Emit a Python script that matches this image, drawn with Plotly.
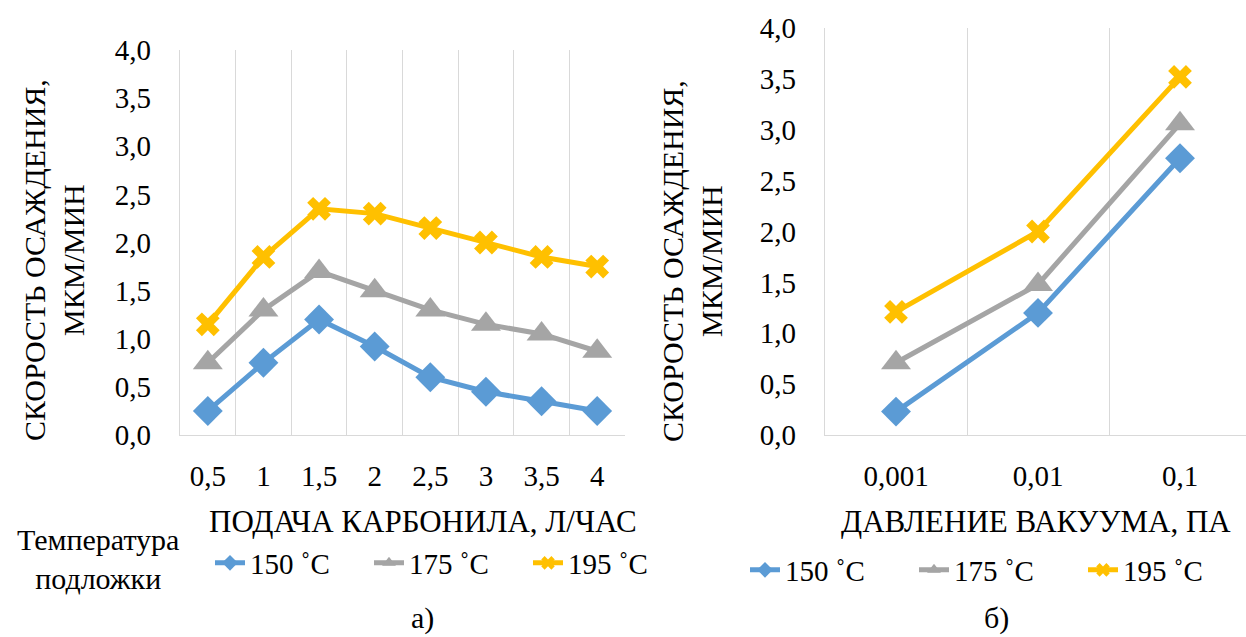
import plotly.graph_objects as go

# ---- data ----
feed_labels = ["0,5", "1", "1,5", "2", "2,5", "3", "3,5", "4"]
feed_150 = [0.25, 0.75, 1.2, 0.92, 0.6, 0.45, 0.35, 0.25]
feed_175 = [0.75, 1.3, 1.7, 1.5, 1.3, 1.15, 1.05, 0.87]
feed_195 = [1.15, 1.85, 2.35, 2.3, 2.15, 2.0, 1.85, 1.75]

press_labels = ["0,001", "0,01", "0,1"]
press_150 = [0.23, 1.2, 2.72]
press_175 = [0.71, 1.48, 3.06]
press_195 = [1.21, 2.0, 3.52]

y_tickvals = [0, 0.5, 1, 1.5, 2, 2.5, 3, 3.5, 4]
y_ticktext = ["0,0", "0,5", "1,0", "1,5", "2,0", "2,5", "3,0", "3,5", "4,0"]

series_names = ["150 ˚C", "175 ˚C", "195 ˚C"]
colors = ["#5B9BD5", "#A5A5A5", "#FFC000"]
symbols = ["diamond", "triangle-up", "x"]
msizes = [23, 26, 21]

FONT = "Liberation Serif"
W, H = 1246, 637

fig = go.Figure()

left_sets = [feed_150, feed_175, feed_195]
right_sets = [press_150, press_175, press_195]
xl = list(range(len(feed_labels)))
xr = list(range(len(press_labels)))

for i, ys in enumerate(left_sets):
    fig.add_trace(go.Scatter(
        x=xl, y=ys, mode="lines+markers", name=series_names[i],
        line=dict(color=colors[i], width=5),
        marker=dict(symbol=symbols[i], size=msizes[i], color=colors[i]),
        xaxis="x", yaxis="y", legend="legend", hoverinfo="skip"))
for i, ys in enumerate(right_sets):
    fig.add_trace(go.Scatter(
        x=xr, y=ys, mode="lines+markers", name=series_names[i],
        line=dict(color=colors[i], width=5),
        marker=dict(symbol=symbols[i], size=msizes[i], color=colors[i]),
        xaxis="x2", yaxis="y2", legend="legend2", hoverinfo="skip"))

grid_c = "#D9D9D9"

def xaxis_cfg(domain, labels, rng):
    n = len(labels)
    return dict(
        domain=domain, range=rng, automargin=False,
        tickmode="array", tickvals=list(range(n)), ticktext=labels,
        showgrid=False, zeroline=False,
        showline=True, linecolor=grid_c, linewidth=1.3,
        ticks="outside", ticklen=15, tickcolor="rgba(0,0,0,0)",
        tickfont=dict(family=FONT, size=29, color="black"),
        minor=dict(tickvals=[k + 0.5 for k in range(-1, n)], showgrid=True,
                   gridcolor=grid_c, gridwidth=1.3, ticks=""),
        fixedrange=True)

def yaxis_cfg(domain, anchor):
    return dict(
        domain=domain, range=[0, 4], anchor=anchor, automargin=False,
        tickmode="array", tickvals=y_tickvals, ticktext=y_ticktext,
        showgrid=False, zeroline=False,
        showline=True, linecolor=grid_c, linewidth=1.3,
        ticks="outside", ticklen=22, tickcolor="rgba(0,0,0,0)",
        tickfont=dict(family=FONT, size=29, color="black"), fixedrange=True)

left_x0, left_x1 = 180 / W, 625 / W
right_x0 = 825 / W
right_span = (W - 825) / 142.0

fig.update_layout(
    width=W, height=H,
    margin=dict(l=0, r=0, t=0, b=0, autoexpand=False),
    paper_bgcolor="white", plot_bgcolor="white",
    font=dict(family=FONT, size=28, color="black"),
    hovermode=False,
    xaxis=xaxis_cfg([left_x0, left_x1], feed_labels, [-0.5, 7.5]),
    yaxis=yaxis_cfg([(H - 435) / H, (H - 50) / H], "x"),
    xaxis2=dict(xaxis_cfg([right_x0, 1.0], press_labels, [-0.5, right_span - 0.5]), anchor="y2"),
    yaxis2=yaxis_cfg([(H - 435) / H, (H - 28) / H], "x2"),
    legend=dict(
        orientation="h", x=210 / W, y=(H - 563) / H, xanchor="left", yanchor="middle",
        font=dict(family=FONT, size=29), entrywidth=114, bgcolor="rgba(0,0,0,0)",
        itemsizing="constant"),
    legend2=dict(
        orientation="h", x=745 / W, y=(H - 570) / H, xanchor="left", yanchor="middle",
        font=dict(family=FONT, size=29), entrywidth=124, bgcolor="rgba(0,0,0,0)",
        itemsizing="constant"),
    showlegend=True,
)

def ann(size):
    return dict(xref="paper", yref="paper", showarrow=False, xanchor="center", yanchor="middle",
                font=dict(family=FONT, size=size, color="black"))

fig.add_annotation(text="СКОРОСТЬ ОСАЖДЕНИЯ,<br>МКМ/МИН", x=54 / W, y=(H - 260) / H,
                   textangle=-90, **ann(30))
fig.add_annotation(text="СКОРОСТЬ ОСАЖДЕНИЯ,<br>МКМ/МИН", x=692 / W, y=(H - 261) / H,
                   textangle=-90, **ann(30))
fig.add_annotation(text="ПОДАЧА КАРБОНИЛА, Л/ЧАС", x=423 / W, y=(H - 521) / H, **ann(31))
fig.add_annotation(text="ДАВЛЕНИЕ ВАКУУМА, ПА", x=1036 / W, y=(H - 521) / H, **ann(31))
fig.add_annotation(text="Температура<br>подложки", x=98 / W, y=(H - 559) / H, **ann(30))
fig.add_annotation(text="а)", x=422 / W, y=(H - 618) / H, **ann(30))
fig.add_annotation(text="б)", x=996 / W, y=(H - 618) / H, **ann(30))

fig.write_html("out.html", config={"displayModeBar": False},
               post_script="document.body.style.margin='0px';")
